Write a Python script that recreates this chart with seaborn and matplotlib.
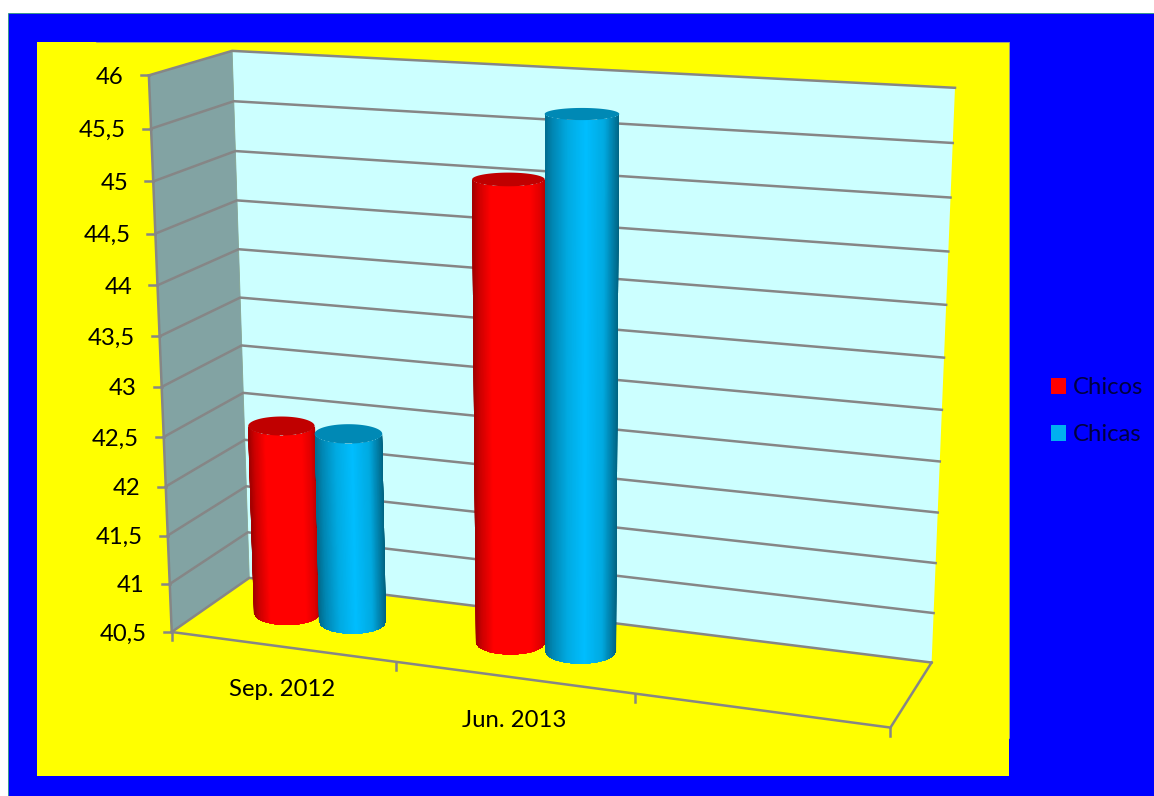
import numpy as np
import pandas as pd
import matplotlib
matplotlib.use("Agg")
import matplotlib.pyplot as plt
from matplotlib.colors import LinearSegmentedColormap
from matplotlib.patches import Polygon, Rectangle
import seaborn as sns

# ---------- data ----------
categories = ["Sep. 2012", "Jun. 2013", ""]
series_names = ["Chicos", "Chicas"]
chicos = [42.46, 45.07]
chicas = [42.45, 45.72]
y_ticks = [40.5, 41, 41.5, 42, 42.5, 43, 43.5, 44, 44.5, 45, 45.5, 46]
y_labels = ["40,5", "41", "41,5", "42", "42,5", "43", "43,5", "44", "44,5", "45", "45,5", "46"]
palette = {"Chicos": "#FF0000", "Chicas": "#00B0F0"}

# ---------- layout ----------
W, H = 1154, 796
GRAY = "#868686"
sns.set_theme(style="white")
plt.rcParams["font.family"] = ["Lato", "DejaVu Sans"]
FS = 17.2

fig = plt.figure(figsize=(W / 100, H / 100), dpi=100, facecolor="white")
ax = fig.add_axes([0, 0, 1, 1])
ax.set_xlim(0, W)
ax.set_ylim(H, 0)
ax.axis("off")

# the values go through seaborn's scales on a helper axes, then through a 3-D projection
rows = [(c, "Chicos", v) for c, v in zip(categories, chicos)] + \
       [(c, "Chicas", v) for c, v in zip(categories, chicas)]
df = pd.DataFrame(rows, columns=["periodo", "serie", "valor"])
ax_data = fig.add_axes([0, 0, 1, 1])
sns.barplot(data=df, x="periodo", y="valor", hue="serie", order=categories,
            hue_order=series_names, palette=palette, width=0.6, saturation=1,
            errorbar=None, linewidth=0, ax=ax_data)
ax_data.set_xlim(-0.5, len(categories) - 0.5)
handles, labels = ax_data.get_legend_handles_labels()
ax_data.get_legend().remove()
ax_data.set_visible(False)

# camera: (u across, v up, w depth) -> pixel, fitted on the visible box corners
box = [((0, 1, 0), (149, 75)), ((0, 0, 0), (172, 631)), ((0, 1, 1), (232, 51)),
       ((0, 0, 1), (249, 579)), ((1, 1, 1), (955, 88)), ((1, 0, 1), (932, 661)),
       ((1, 0, 0), (890, 729))]
A = []
for (u, v, w), (px, py) in box:
    A.append([u, v, w, 1, 0, 0, 0, 0, -px * u, -px * v, -px * w, -px])
    A.append([0, 0, 0, 0, u, v, w, 1, -py * u, -py * v, -py * w, -py])
P = np.linalg.svd(np.array(A, float))[2][-1].reshape(3, 4)


def proj(u, v, w):
    u, v, w = np.broadcast_arrays(np.asarray(u, float), np.asarray(v, float), np.asarray(w, float))
    h = P @ np.stack([u, v, w, np.ones_like(u, dtype=float)])
    return np.stack([h[0] / h[2], h[1] / h[2]], axis=-1)


y0, y1 = y_ticks[0], y_ticks[-1]
vof = lambda val: (np.asarray(val, float) - y0) / (y1 - y0)
n = len(categories)
uof = lambda x: (np.asarray(x, float) + 0.5) / n

# frame
ax.add_patch(Rectangle((8, 13), W - 8, H - 13, fc="#0000FF", ec="#20A060", lw=0.5, zorder=0))
ax.add_patch(Rectangle((37, 42), 972, 734, fc="#FFFF00", ec="none", zorder=1))
ax.plot([96, 1008.5, 1008.5], [42, 42, 738], color="#A0A080", lw=0.7, zorder=1.1)

# walls
ax.add_patch(Polygon(proj([0, 1, 1, 0], [0, 0, 1, 1], [1, 1, 1, 1]), fc="#CCFFFF", ec="none", zorder=2))
ax.add_patch(Polygon(proj([0, 0, 0, 0], [0, 1, 1, 0], [0, 0, 1, 1]), fc="#82A3A3", ec="#82A3A3",
                     lw=0.6, zorder=2.1))

line = dict(color=GRAY, lw=1.8, solid_capstyle="projecting", solid_joinstyle="miter", zorder=3)
for t, lab in zip(y_ticks, y_labels):
    v = float(vof(t))
    pts = proj([0, 0, 1], [v, v, v], [0, 1, 1])
    ax.plot(pts[:, 0], pts[:, 1], **line)
    fx, fy = pts[0]
    ax.plot([fx - 8, fx], [fy, fy], **line)
    ax.text(fx - 25, fy + 2, lab, ha="right", va="center", fontsize=FS, color="black", zorder=6)

pts = proj([0, 0], [0, 1], [0, 0])
ax.plot(pts[:, 0], pts[:, 1], **line)
pts = proj([0, 1, 1], [0, 0, 0], [0, 0, 1])
ax.plot(pts[:, 0], pts[:, 1], **line)
for i in range(n + 1):
    px, py = proj(i / n, 0, 0)
    ax.plot([px, px], [py, py + 8], **line)
for i, c in enumerate(categories):
    px, py = proj((i + 0.5) / n, 0, 0)
    ax.text(px, py + 43, c, ha="center", va="center", fontsize=FS, color="black", zorder=6)

# cylinders: axis-aligned ellipses, centred on the projected bar axis
stops = {
    "Chicos": ([0, .08, .25, .8, .93, 1],
               [(165, 0, 0), (205, 0, 0), (255, 0, 0), (255, 0, 0), (225, 0, 0), (185, 0, 0)]),
    "Chicas": ([0, .1, .3, .55, .8, .93, 1],
               [(0, 110, 145), (0, 135, 180), (0, 170, 225), (0, 190, 255), (0, 170, 225), (0, 125, 165), (0, 100, 130)]),
}
cmaps = {k: LinearSegmentedColormap.from_list(k, [(x, tuple(c / 255 for c in col)) for x, col in zip(*v)])
         for k, v in stops.items()}
tops = {"Chicos": "#C00000", "Chicas": "#0089B5"}
WC, WR = 0.5, 0.21
th = np.linspace(0, np.pi, 91)
ring = np.linspace(0, 2 * np.pi, 120)


def ellipse(uc, ur, v, angles):
    cx_, cy_ = proj(uc, v, WC)
    a = (proj(uc + ur, v, WC)[0] - proj(uc - ur, v, WC)[0]) / 2
    b = (proj(uc, v, WC - WR)[1] - proj(uc, v, WC + WR)[1]) / 2
    return np.stack([cx_ + a * np.cos(angles), cy_ + b * np.sin(angles)], axis=1)


for c_i in range(2):
    for s_i, name in enumerate(series_names):
        bar = ax_data.containers[s_i][c_i]
        cx = bar.get_x() + bar.get_width() / 2
        uc, ur = float(uof(cx)), bar.get_width() / n / 2
        vt = float(vof(bar.get_height()))
        low = ellipse(uc, ur, 0, th)
        up = ellipse(uc, ur, vt, th)
        s = (1 + np.cos(th)) / 2
        z = 4 + c_i + s_i * 0.1
        X = np.stack([low[:, 0], up[:, 0]])
        Y = np.stack([low[:, 1], up[:, 1]])
        C = np.stack([s, s])
        mesh = ax.pcolormesh(X, Y, C, shading="gouraud", cmap=cmaps[name], vmin=0, vmax=1, zorder=z)
        mesh.set_clip_path(Polygon(np.vstack([low, up[::-1]]), transform=ax.transData))
        cap = Polygon(ellipse(uc, ur, vt, ring), fc=tops[name], ec="none", zorder=z + 0.01)
        cap.set_snap(False)
        ax.add_patch(cap)

# legend
leg = fig.legend(handles, labels, loc="upper left", bbox_to_anchor=(1032 / W, 1 - 358 / H),
                 bbox_transform=fig.transFigure, frameon=False, fontsize=FS,
                 handlelength=0.63, handleheight=0.63, handletextpad=0.3, labelspacing=1.10,
                 labelcolor="#000040", borderpad=0.3)
leg.set_zorder(10)

fig.savefig("out.png", dpi=100, facecolor="white")
